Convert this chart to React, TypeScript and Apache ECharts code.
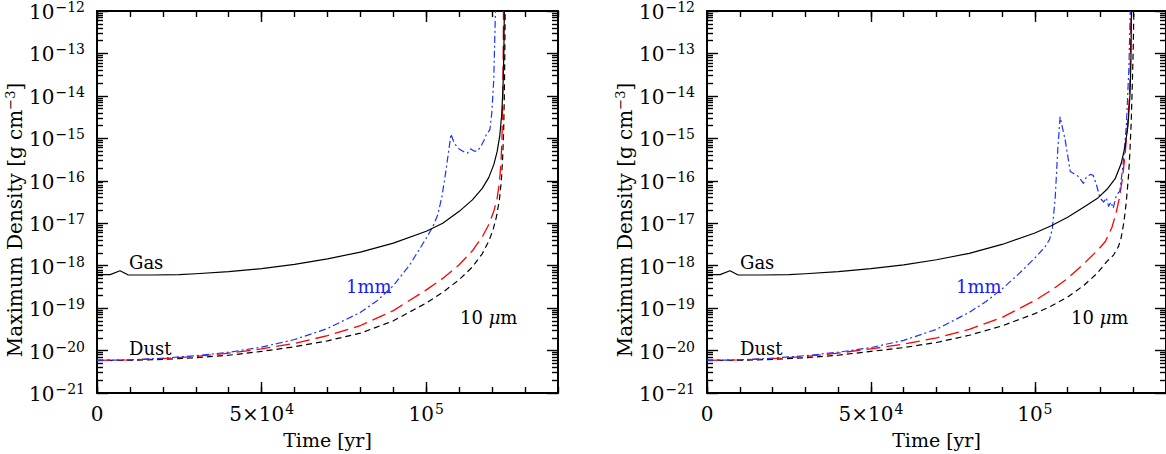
import React, { useEffect, useRef } from "react";
import * as echarts from "echarts";

const FONT = "DejaVu Serif";
const X_MAX = 140000;
const Y_MIN = -21;
const Y_MAX = -12;
const xMajorTicks = [0, 50000, 100000];
const xMajorLabels = ["{b|0}", "{b|5×10}{s|4}", "{b|10}{s|5}"];
const yTitle = "Maximum Density [g cm{s|−3}]";
const xTitle = "Time [yr]";

// ---------- Left panel: time [yr] and log10 of maximum density [g cm^-3] ----------
const gasLT = [0, 4000, 7000, 9500, 17000, 25000, 30000, 40000, 50000, 60000, 70000, 80000, 90000, 100000, 105000, 110000, 114000, 117000, 119000, 120500, 121500, 122300, 122900, 123300, 123550, 123700];
const gasLV = [-18.21, -18.21, -18.12, -18.22, -18.22, -18.21, -18.19, -18.14, -18.07, -17.97, -17.84, -17.68, -17.47, -17.19, -17.0, -16.72, -16.45, -16.18, -15.92, -15.62, -15.32, -14.95, -14.45, -13.8, -13.0, -12.0];

const mmLT = [0, 10000, 20000, 30000, 40000, 50000, 60000, 70000, 80000, 85000, 90000, 95000, 100000, 102000, 103500, 104800, 105800, 106800, 107500, 108500, 110000, 111500, 112500, 113500, 114500, 115500, 116500, 117500, 118300, 119300, 119900, 120500, 121000];
const mmLV = [-20.23, -20.22, -20.18, -20.12, -20.04, -19.92, -19.74, -19.48, -19.1, -18.83, -18.47, -17.98, -17.35, -17.08, -16.8, -16.35, -15.85, -15.3, -14.9, -15.12, -15.25, -15.32, -15.35, -15.25, -15.3, -15.3, -15.2, -15.05, -14.9, -14.8, -14.4, -13.6, -12.0];

const midLT = [0, 10000, 20000, 30000, 40000, 50000, 60000, 70000, 80000, 90000, 100000, 105000, 110000, 114000, 117000, 119000, 120500, 121500, 122200, 122700, 123000, 123200, 123350, 123450];
const midLV = [-20.23, -20.22, -20.19, -20.14, -20.06, -19.96, -19.83, -19.65, -19.41, -19.06, -18.57, -18.3, -17.98, -17.65, -17.32, -17.03, -16.72, -16.42, -16.05, -15.55, -14.95, -14.2, -13.2, -12.0];

const smLT = [0, 10000, 20000, 30000, 40000, 50000, 60000, 70000, 80000, 90000, 100000, 105000, 110000, 114000, 117000, 119000, 120300, 121300, 122200, 122800, 123200, 123500, 123700, 123850, 123950];
const smLV = [-20.23, -20.23, -20.21, -20.17, -20.11, -20.02, -19.91, -19.77, -19.59, -19.3, -18.88, -18.63, -18.33, -18.03, -17.72, -17.42, -17.15, -16.85, -16.45, -16.0, -15.45, -14.8, -14.0, -13.0, -12.0];

// ---------- Right panel ----------
const gasRT = [0, 4000, 7000, 9500, 17000, 25000, 30000, 40000, 50000, 60000, 70000, 80000, 90000, 100000, 105000, 110000, 115000, 119000, 122000, 124500, 126300, 127500, 128400, 129000, 129300, 129450];
const gasRV = [-18.21, -18.21, -18.12, -18.22, -18.22, -18.21, -18.19, -18.14, -18.07, -17.98, -17.86, -17.71, -17.5, -17.23, -17.06, -16.86, -16.62, -16.42, -16.2, -15.95, -15.6, -15.2, -14.7, -14.0, -13.2, -12.0];

const mmRT = [0, 10000, 20000, 30000, 40000, 50000, 60000, 70000, 80000, 85000, 90000, 95000, 100000, 103000, 104500, 105300, 106200, 107000, 107700, 109200, 110800, 113300, 114800, 115800, 117000, 117800, 118800, 119900, 121000, 121800, 122500, 123200, 123900, 124900, 125900, 126900, 127900, 128700, 129100];
const mmRV = [-20.23, -20.22, -20.18, -20.12, -20.04, -19.93, -19.76, -19.5, -19.1, -18.85, -18.55, -18.2, -17.82, -17.57, -17.38, -17.15, -16.41, -15.25, -14.5, -15.02, -15.78, -15.9, -16.06, -15.9, -15.85, -15.87, -16.1, -16.41, -16.5, -16.4, -16.6, -16.5, -16.65, -16.33, -16.25, -15.63, -14.71, -13.31, -12.0];

const midRT = [0, 10000, 20000, 30000, 40000, 50000, 60000, 70000, 80000, 90000, 100000, 105000, 110000, 115000, 119000, 121500, 123500, 124800, 125800, 126700, 127500, 128200, 128700, 129000, 129200, 129350];
const midRV = [-20.23, -20.22, -20.19, -20.14, -20.06, -19.96, -19.85, -19.7, -19.5, -19.22, -18.82, -18.58, -18.3, -17.95, -17.65, -17.43, -17.1, -16.75, -16.4, -15.95, -15.4, -14.75, -14.2, -13.7, -12.9, -12.0];

const smRT = [0, 10000, 20000, 30000, 40000, 50000, 60000, 70000, 80000, 90000, 100000, 105000, 110000, 115000, 119000, 122000, 124000, 125500, 126300, 127100, 127600, 128000, 128600, 129000, 129400, 129700, 130000, 130200];
const smRV = [-20.23, -20.23, -20.21, -20.17, -20.11, -20.02, -19.93, -19.81, -19.64, -19.42, -19.13, -18.95, -18.74, -18.46, -18.18, -17.9, -17.75, -17.55, -17.35, -17.0, -16.7, -16.4, -15.85, -15.3, -14.6, -13.8, -12.9, -12.0];

const panels = [
  { gas: [gasLT, gasLV], mm: [mmLT, mmLV], mid: [midLT, midLV], sm: [smLT, smLV] },
  { gas: [gasRT, gasRV], mm: [mmRT, mmRV], mid: [midRT, midRV], sm: [smRT, smRV] },
];

// in-plot annotation texts
const labelGas = "Gas";
const labelDust = "Dust";
const label1mm = "1mm";
const label10um = "10 {i|μ}m";

const GRIDS = [
  { left: 97, top: 10, width: 461, height: 388 },
  { left: 707, top: 10, width: 461, height: 388 },
];

const richLabel = {
  b: { fontSize: 20, fontFamily: FONT, color: "#000", lineHeight: 22, verticalAlign: "bottom" },
  s: { fontSize: 14, fontFamily: FONT, color: "#000", lineHeight: 22, verticalAlign: "top", padding: [0, 0, 0, 1] },
};

function buildOption() {
  const yMinor: number[] = [];
  for (let d = Y_MIN; d < Y_MAX; d++) for (let k = 2; k <= 9; k++) yMinor.push(d + Math.log10(k));
  const xMinor: number[] = [];
  for (let x = 0; x <= X_MAX; x += 10000) xMinor.push(x);

  const xAxis: any[] = [];
  const yAxis: any[] = [];
  const series: any[] = [];
  const tickStyle = { color: "#000", width: 1.4 };
  const lineStyle = { color: "#000", width: 2 };

  GRIDS.forEach((_, g) => {
    const xBase = { gridIndex: g, type: "value", min: 0, max: X_MAX, splitLine: { show: false } };
    xAxis.push({
      ...xBase,
      position: "bottom",
      axisLine: { show: true, onZero: false, lineStyle },
      axisTick: { show: true, inside: true, length: 11, customValues: xMajorTicks, lineStyle: tickStyle },
      axisLabel: {
        show: true,
        customValues: xMajorTicks,
        margin: 9,
        formatter: (v: number) => {
          const i = xMajorTicks.indexOf(v);
          return i >= 0 ? xMajorLabels[i] : "";
        },
        rich: richLabel,
      },
      name: xTitle,
      nameLocation: "middle",
      nameGap: 37,
      nameTextStyle: { fontFamily: FONT, fontSize: 19, color: "#000" },
    });
    xAxis.push({
      ...xBase,
      position: "bottom",
      axisLine: { show: false, onZero: false },
      axisTick: { show: true, inside: true, length: 6, customValues: xMinor, lineStyle: tickStyle },
      axisLabel: { show: false },
    });
    xAxis.push({
      ...xBase,
      position: "top",
      axisLine: { show: true, onZero: false, lineStyle },
      axisTick: { show: true, inside: true, length: 11, customValues: xMajorTicks, lineStyle: tickStyle },
      axisLabel: { show: false },
    });
    xAxis.push({
      ...xBase,
      position: "top",
      axisLine: { show: false, onZero: false },
      axisTick: { show: true, inside: true, length: 6, customValues: xMinor, lineStyle: tickStyle },
      axisLabel: { show: false },
    });

    const yBase = { gridIndex: g, type: "value", min: Y_MIN, max: Y_MAX, interval: 1, splitLine: { show: false } };
    yAxis.push({
      ...yBase,
      position: "left",
      axisLine: { show: true, onZero: false, lineStyle },
      axisTick: { show: true, inside: true, length: 11, lineStyle: tickStyle },
      axisLabel: {
        show: true,
        margin: 12,
        formatter: (v: number) => `{b|10}{s|−${Math.abs(Math.round(v))}}`,
        rich: richLabel,
      },
      name: yTitle,
      nameLocation: "middle",
      nameGap: 67,
      nameRotate: 90,
      nameTextStyle: {
        fontFamily: FONT,
        fontSize: 20,
        color: "#000",
        padding: [0, 36, 0, 0],
        rich: {
          s: { fontSize: 13, fontFamily: FONT, color: "#000", verticalAlign: "top", lineHeight: 22 },
        },
      },
    });
    yAxis.push({
      ...yBase,
      position: "left",
      axisLine: { show: false, onZero: false },
      axisTick: { show: true, inside: true, length: 6, customValues: yMinor, lineStyle: tickStyle },
      axisLabel: { show: false },
    });
    yAxis.push({
      ...yBase,
      position: "right",
      axisLine: { show: true, onZero: false, lineStyle },
      axisTick: { show: true, inside: true, length: 11, lineStyle: tickStyle },
      axisLabel: { show: false },
    });
    yAxis.push({
      ...yBase,
      position: "right",
      axisLine: { show: false, onZero: false },
      axisTick: { show: true, inside: true, length: 6, customValues: yMinor, lineStyle: tickStyle },
      axisLabel: { show: false },
    });

    const p = panels[g];
    const mk = (pair: number[][], ls: any, z: number) => ({
      type: "line",
      xAxisIndex: g * 4,
      yAxisIndex: g * 4,
      data: pair[0].map((t, i) => [t, pair[1][i]]),
      symbol: "none",
      showSymbol: false,
      smooth: false,
      clip: true,
      lineStyle: { ...ls, join: "round" },
      z,
      silent: true,
    });
    series.push(mk(p.sm, { color: "#000", width: 1.2, type: [6, 4] }, 2));
    series.push(mk(p.mid, { color: "#ff0000", width: 1.3, type: [14, 6] }, 3));
    series.push(mk(p.mm, { color: "#1a33ff", width: 1.2, type: [7, 3, 2, 3] }, 4));
    series.push(mk(p.gas, { color: "#000", width: 1.2, type: "solid" }, 5));
  });

  const txt = (x: number, y: number, text: string, color: string) => ({
    type: "text",
    x,
    y,
    style: {
      text,
      fill: color,
      fontFamily: FONT,
      fontSize: 18,
      align: "left",
      verticalAlign: "middle",
      rich: { i: { fontFamily: FONT, fontSize: 18, fontStyle: "italic", fill: color } },
    },
  });

  const graphic = [
    txt(129, 262, labelGas, "#000"),
    txt(129, 348, labelDust, "#000"),
    txt(346, 286, label1mm, "#1a1aff"),
    txt(460, 317, label10um, "#000"),
    txt(740, 262, labelGas, "#000"),
    txt(740, 348, labelDust, "#000"),
    txt(956, 286, label1mm, "#1a1aff"),
    txt(1071, 317, label10um, "#000"),
  ];

  return {
    animation: false,
    backgroundColor: "#fff",
    textStyle: { fontFamily: FONT },
    grid: GRIDS.map((g) => ({ ...g, containLabel: false })),
    xAxis,
    yAxis,
    series,
    graphic,
  };
}

export default function App() {
  const ref = useRef<HTMLDivElement>(null);
  useEffect(() => {
    if (!ref.current) return;
    const chart = echarts.init(ref.current, undefined, { renderer: "svg" });
    chart.setOption(buildOption() as any);
    return () => chart.dispose();
  }, []);
  return (
    <div
      ref={ref}
      style={{ position: "fixed", left: 0, top: 0, width: 1166, height: 454, background: "#fff" }}
    />
  );
}
